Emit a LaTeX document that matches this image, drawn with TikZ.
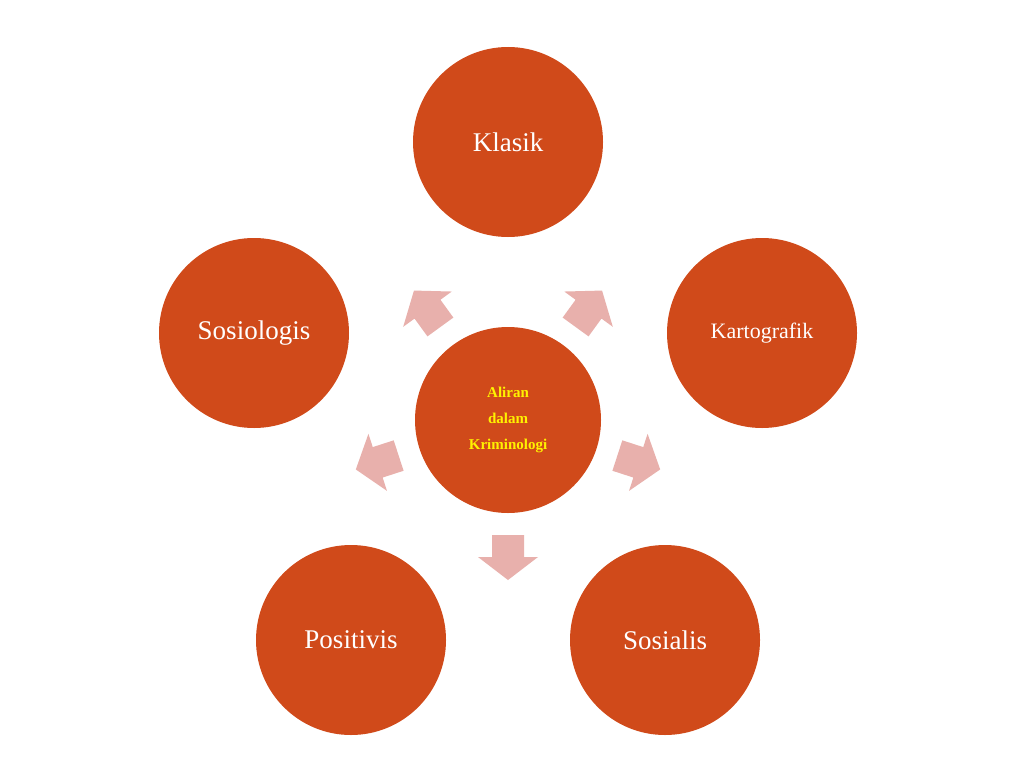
\documentclass[tikz,border=0pt]{standalone}
\usepackage{fontspec}
\setmainfont{Liberation Serif}
\begin{document}
\begin{tikzpicture}[x=1pt,y=-1pt,
  circ/.style={circle,fill=orange!60!red!90!black,minimum size=190pt,inner sep=0pt,text=white,font=\fontsize{27}{30}\selectfont},
  arr/.style={fill=red!25!pink!90!brown}]
\definecolor{circfill}{HTML}{D04A1A}
\definecolor{arrfill}{HTML}{E8B0AC}
\fill[white] (0,0) rectangle (1024,768);
\tikzset{circ/.append style={fill=circfill}, arr/.style={fill=arrfill}}
\node[circ,minimum size=186pt,text=yellow,font=\bfseries\fontsize{15}{26}\selectfont,align=center] (c) at (508,420) {Aliran\\dalam\\Kriminologi};
\node[circ] (k) at (508,142) {Klasik};
\node[circ,font=\fontsize{22}{26}\selectfont] (kt) at (762,333) {Kartografik};
\node[circ] (so) at (254,333) {Sosiologis};
\node[circ] (p) at (351,640) {Positivis};
\node[circ] (s) at (665,640) {Sosialis};
\foreach \a in {90,18,162,-54,234}{
  \begin{scope}[shift={(508,420)},rotate=-\a]
    \fill[arr] (115,-16) -- (137,-16) -- (137,-30) -- (160,0) -- (137,30) -- (137,16) -- (115,16) -- cycle;
  \end{scope}}
\end{tikzpicture}
\end{document}
